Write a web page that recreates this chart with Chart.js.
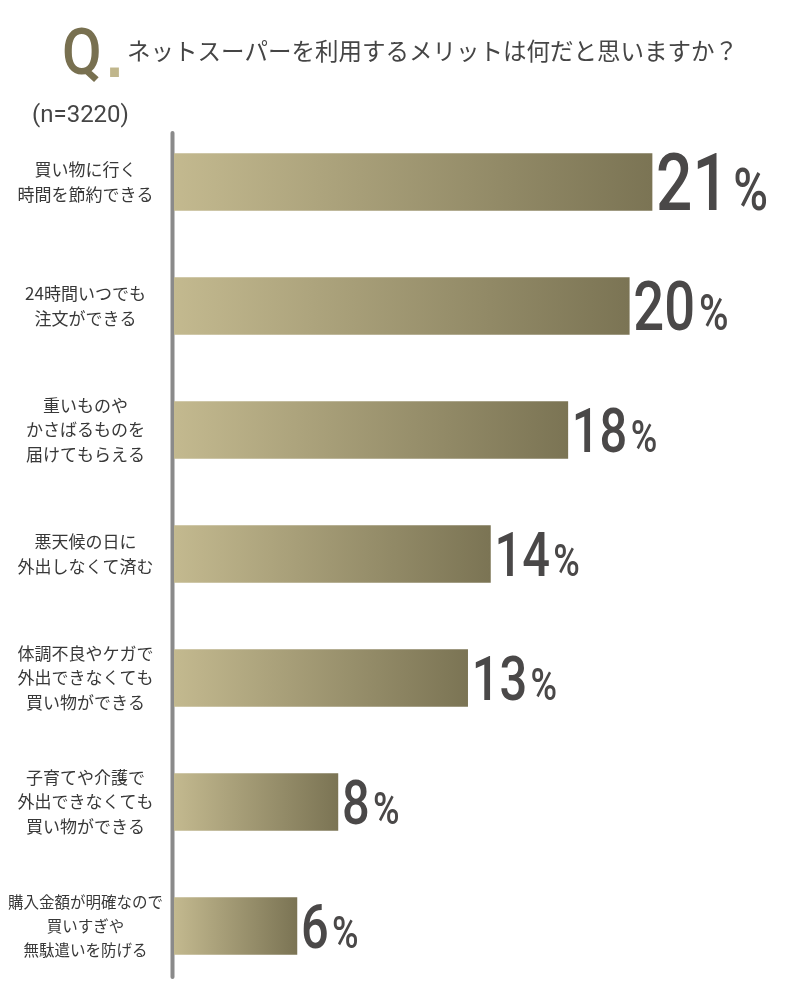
<!DOCTYPE html>
<html><head><meta charset="utf-8">
<script src="https://cdn.jsdelivr.net/npm/chart.js@4"></script>
<style>html,body{margin:0;padding:0;background:#fff}#wrap{width:800px;height:1000px;position:relative}</style>
</head><body><div id="wrap"><canvas id="c" width="800" height="1000"></canvas></div>
<script>
const categories = [
  ['買い物に行く', '時間を節約できる'],
  ['24時間いつでも', '注文ができる'],
  ['重いものや', 'かさばるものを', '届けてもらえる'],
  ['悪天候の日に', '外出しなくて済む'],
  ['体調不良やケガで', '外出できなくても', '買い物ができる'],
  ['子育てや介護で', '外出できなくても', '買い物ができる'],
  ['購入金額が明確なので', '買いすぎや', '無駄遣いを防げる']
];
const values = [21.0, 20.0, 17.3, 13.9, 12.9, 7.2, 5.4];
const valueLabels = ['21', '20', '18', '14', '13', '8', '6'];
const unit = '%';
const questionMark = 'Q';
const questionDot = '.';
const questionText = 'ネットスーパーを利用するメリットは何だと思いますか？';
const sampleText = '(n=3220)';

// styles
const labelSizes = [80, 68, 61, 61, 61, 61, 61];
const barLight = '#c3b98f';
const barDark = '#7b7454';

const barGradient = (c) => {
  const chart = c.chart;
  if (!chart.chartArea || c.type !== 'data') return barDark;
  const xs = chart.scales.x;
  const x0 = xs.getPixelForValue(0);
  const x1 = xs.getPixelForValue(c.raw);
  const g = chart.ctx.createLinearGradient(x0, 0, x1, 0);
  g.addColorStop(0, barLight);
  g.addColorStop(1, barDark);
  return g;
};

const axisLinePlugin = {
  id: 'axisLine',
  beforeDatasetsDraw(chart) {
    const ctx = chart.ctx;
    ctx.save();
    ctx.strokeStyle = '#8a8a8a';
    ctx.lineWidth = 4;
    ctx.lineCap = 'round';
    ctx.beginPath();
    ctx.moveTo(chart.chartArea.left - 1.5, chart.chartArea.top + 13);
    ctx.lineTo(chart.chartArea.left - 1.5, chart.chartArea.bottom - 11);
    ctx.stroke();
    ctx.restore();
  }
};

const valueLabelPlugin = {
  id: 'valueLabels',
  afterDatasetsDraw(chart) {
    const ctx = chart.ctx;
    const meta = chart.getDatasetMeta(0);
    meta.data.forEach((bar, i) => {
      const size = labelSizes[i];
      const cap = size * 0.711;
      ctx.save();
      ctx.fillStyle = '#4a4848';
      ctx.textAlign = 'left';
      ctx.textBaseline = 'alphabetic';
      ctx.translate(bar.x + 4, bar.y + cap / 2);
      ctx.scale(0.8, 1);
      ctx.font = '500 ' + size + 'px Roboto';
      ctx.fillText(valueLabels[i], 0, 0);
      const w = ctx.measureText(valueLabels[i]).width;
      ctx.font = '500 ' + (size * 0.74) + 'px Roboto';
      ctx.fillText(unit, w + size * 0.07, 0);
      ctx.restore();
    });
  }
};

const titlePlugin = {
  id: 'titleBlock',
  afterDraw(chart) {
    const ctx = chart.ctx;
    ctx.save();
    // Q
    const g = ctx.createLinearGradient(0, 30, 0, 76);
    g.addColorStop(0, '#787050');
    g.addColorStop(1, '#cdc39b');
    ctx.fillStyle = g;
    ctx.textBaseline = 'alphabetic';
    ctx.textAlign = 'left';
    ctx.save();
    ctx.translate(62, 74);
    ctx.scale(0.9, 1);
    ctx.font = '500 64px Roboto';
    ctx.fillText(questionMark, 0, 0);
    ctx.restore();
    ctx.fillStyle = '#c0b68c';
    ctx.font = '700 50px "DejaVu Sans"';
    ctx.fillText(questionDot, 105, 77);
    // question
    ctx.fillStyle = '#454545';
    ctx.font = '400 23.5px "Noto Sans CJK JP"';
    ctx.textBaseline = 'middle';
    ctx.fillText(questionText, 127, 51);
    // sample size
    ctx.font = '400 24px Roboto';
    ctx.fillText(sampleText, 32, 116);
    ctx.restore();
  }
};

new Chart(document.getElementById('c'), {
  type: 'bar',
  data: {
    labels: categories,
    datasets: [{
      data: values,
      backgroundColor: barGradient,
      borderWidth: 0,
      barThickness: 57
    }]
  },
  options: {
    indexAxis: 'y',
    responsive: false,
    animation: false,
    devicePixelRatio: 1,
    layout: { padding: { top: 120, bottom: 12, left: 0, right: 0 } },
    plugins: { legend: { display: false }, tooltip: { enabled: false } },
    scales: {
      x: { display: false, min: 0, max: 27.5 },
      y: {
        grid: { display: false, drawTicks: false },
        border: { display: false },
        ticks: {
          crossAlign: 'center',
          padding: 11,
          color: '#383838',
          font: (c) => ({ family: '"Noto Sans CJK JP"', size: c.index === 6 ? 15.5 : 17, lineHeight: c.index === 6 ? 1.55 : 1.42 })
        },
        afterFit(s) { s.width = 174; s.paddingTop = 0; s.paddingBottom = 0; }
      }
    }
  },
  plugins: [axisLinePlugin, valueLabelPlugin, titlePlugin]
});
</script>
</body></html>
